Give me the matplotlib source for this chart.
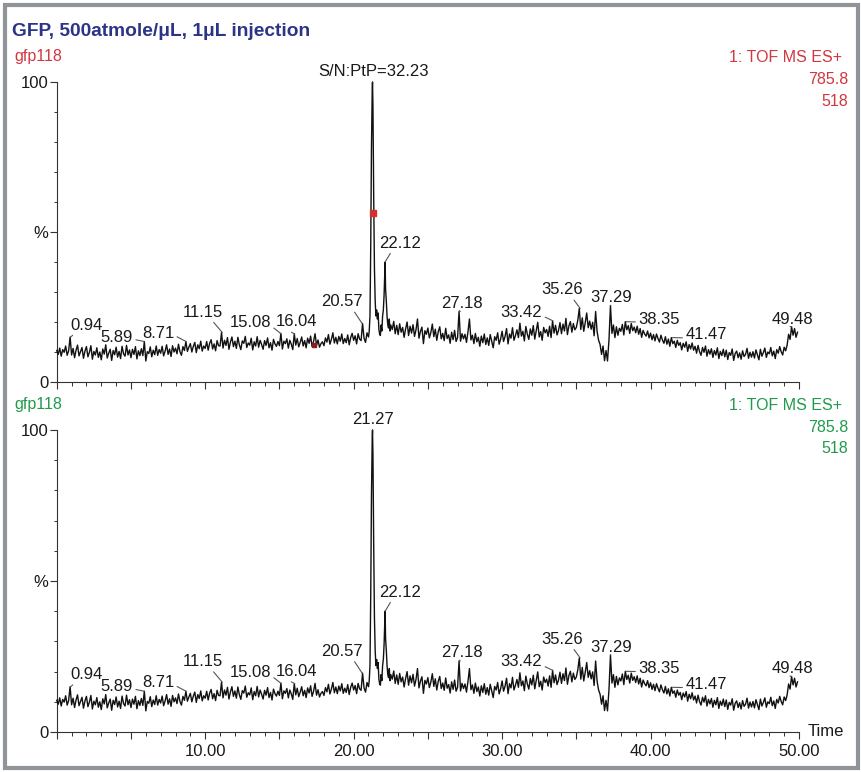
import numpy as np
import matplotlib
matplotlib.use("Agg")
import matplotlib.pyplot as plt
from matplotlib.ticker import MultipleLocator, FixedLocator, FuncFormatter
from matplotlib.patches import Rectangle

plt.rcParams['font.family'] = ['Liberation Sans', 'DejaVu Sans']

# Chromatogram trace (% of base peak) at 0.1 min steps
# part A: 0.0 - 20.9 min
trace_a = [
    10.5, 9.2, 11.3, 8.6, 10.8, 9.9, 12.0, 8.9, 10.4, 15.0,
    9.0, 11.2, 8.1, 10.6, 12.3, 8.7, 10.1, 11.5, 7.9, 10.3,
    11.8, 8.4, 9.9, 12.1, 7.6, 10.2, 9.0, 11.4, 8.2, 10.0,
    7.4, 11.0, 9.3, 12.4, 8.0, 9.6, 10.9, 7.2, 10.5, 9.1,
    11.6, 8.3, 10.2, 7.8, 11.9, 9.4, 8.6, 12.2, 9.0, 10.7,
    8.1, 10.9, 9.2, 11.8, 7.7, 10.4, 8.8, 11.1, 8.8, 13.5,
    7.0, 10.1, 9.5, 11.7, 8.4, 10.6, 9.1, 12.0, 8.9, 10.8,
    9.6, 11.9, 8.7, 10.3, 12.4, 9.2, 11.0, 8.5, 12.1, 10.0,
    11.3, 9.4, 12.6, 10.1, 8.9, 11.8, 10.5, 13.5, 10.2, 11.6,
    12.8, 10.0, 11.9, 13.2, 9.8, 12.4, 11.1, 13.6, 10.3, 12.0,
    11.2, 13.5, 10.6, 12.9, 14.1, 11.0, 12.7, 10.4, 13.8, 12.1,
    12.0, 16.5, 11.3, 13.9, 12.2, 14.8, 10.9, 13.3, 15.0, 11.8,
    13.6, 11.2, 14.9, 12.4, 10.8, 13.7, 12.9, 15.2, 11.5, 13.0,
    12.3, 14.6, 10.7, 13.4, 12.0, 15.1, 11.6, 13.9, 12.5, 10.9,
    13.8, 12.2, 14.7, 11.4, 13.1, 10.6, 14.2, 12.7, 11.9, 13.5,
    12.1, 16.2, 11.0, 13.6, 12.8, 14.4, 11.3, 13.9, 12.6, 10.8,
    16.0, 12.3, 14.5, 11.7, 13.2, 15.0, 12.0, 13.8, 11.4, 14.6,
    12.9, 15.3, 11.8, 13.5, 16.1, 12.2, 14.0, 11.6, 12.8, 13.4,
    12.1, 14.7, 13.3, 15.8, 12.6, 14.2, 16.4, 13.0, 14.9, 12.7,
    15.2, 13.6, 16.0, 12.8, 14.5, 13.1, 15.7, 12.4, 14.8, 16.2,
    13.9, 15.4, 12.7, 16.1, 14.3, 13.8, 19.5, 14.6, 13.2, 16.4,
]
# main peak region, finer steps
peak_t = [21.00, 21.05, 21.10, 21.15, 21.20, 21.25, 21.27, 21.30, 21.35, 21.40,
          21.45, 21.50, 21.55, 21.60, 21.65, 21.70, 21.75, 21.80, 21.85, 21.90,
          21.95, 22.00, 22.05, 22.09, 22.12, 22.15, 22.20, 22.25, 22.30, 22.35,
          22.40, 22.45, 22.50]
peak_v = [15.0, 17.0, 22.0, 45.0, 78.0, 97.0, 100.0, 92.0, 62.0, 38.0,
          27.0, 22.0, 24.0, 21.0, 23.0, 17.5, 16.0, 15.5, 19.0, 17.0,
          22.0, 24.0, 29.0, 36.0, 40.0, 31.0, 27.0, 22.0, 19.0, 18.0,
          21.0, 17.0, 19.0]
# part B: 22.6 - 49.9 min
trace_b = [
    17.5, 20.2, 16.1, 18.9,
    15.8, 19.4, 16.6, 18.2, 14.9, 17.7, 20.0, 15.5, 18.6, 16.3,
    19.1, 15.2, 17.4, 21.0, 14.6, 16.9, 18.3, 12.8, 17.1, 15.9,
    18.0, 14.7, 16.5, 19.3, 15.1, 17.6, 13.9, 16.8, 18.4, 14.4,
    16.2, 13.8, 17.9, 14.5, 15.7, 12.9, 16.6, 14.1, 17.2, 13.5,
    14.8, 23.5, 13.6, 16.1, 14.4, 15.9, 13.2, 16.7, 21.0, 14.0,
    15.6, 12.8, 16.2, 13.4, 14.9, 11.9, 15.3, 13.1, 16.0, 12.5,
    14.7, 12.2, 15.8, 13.6, 11.4, 15.1, 13.9, 16.4, 12.6, 14.3,
    16.9, 13.5, 15.2, 17.8, 12.7, 16.0, 14.6, 18.1, 13.9, 15.5,
    17.4, 14.8, 19.6, 15.3, 16.9, 13.7, 18.5, 15.9, 14.2, 17.7,
    15.6, 18.8, 14.3, 17.1, 19.9, 15.0, 16.8, 13.9, 18.2, 16.4,
    17.5, 15.2, 18.6, 14.8, 20.4, 16.3, 18.9, 15.7, 17.2, 19.8,
    16.1, 19.3, 17.0, 21.2, 15.8, 18.7, 20.1, 16.6, 19.5, 17.4,
    18.2, 20.6, 24.5, 17.5, 21.4, 16.9, 19.8, 23.0, 18.1, 20.3,
    17.6, 19.9, 15.4, 23.5, 16.8, 13.9, 12.5, 9.2, 12.0, 7.1,
    10.5, 7.0, 14.0, 25.5, 16.2, 19.0, 14.8, 18.4, 15.6, 17.9,
    16.9, 19.2, 15.7, 20.1, 17.4, 18.8, 16.2, 19.5, 17.1, 18.3,
    16.4, 18.6, 15.9, 17.8, 14.9, 17.2, 16.0, 15.3, 17.0, 14.7,
    16.3, 14.1, 15.8, 13.7, 16.0, 14.5, 13.3, 15.6, 14.0, 12.9,
    15.1, 12.6, 14.3, 11.9, 14.8, 12.8, 13.6, 11.5, 13.9, 12.2,
    13.1, 10.7, 12.9, 11.6, 13.4, 10.2, 12.5, 11.0, 13.0, 10.6,
    11.9, 9.6, 12.2, 10.1, 8.9, 11.5, 9.9, 12.0, 8.6, 10.8,
    9.3, 11.1, 8.2, 10.5, 9.0, 11.4, 7.8, 10.2, 8.8, 10.9,
    8.4, 10.6, 7.5, 9.8, 8.9, 11.0, 7.2, 9.5, 10.3, 8.1,
    9.7, 7.6, 10.4, 8.5, 9.2, 11.2, 7.9, 9.9, 8.3, 10.1,
    8.0, 10.7, 9.1, 7.4, 10.9, 8.6, 9.8, 11.3, 8.2, 10.0,
    9.4, 11.5, 8.7, 10.3, 7.8, 10.8, 9.6, 11.8, 10.1, 9.0,
    11.6, 10.4, 12.3, 15.9, 14.2, 18.4, 15.6, 17.8, 14.9, 16.6,
]

# labelled retention times
peak_rt = [0.94, 5.89, 8.71, 11.15, 15.08, 16.04, 20.57, 22.12,
           27.18, 33.42, 35.26, 37.29, 38.35, 41.47, 49.48]
main_rt = 21.27
sn_text = "S/N:PtP=32.23"

# label placement (x, y in data units, leader attach point on the text box)
label_layout = [
    (2.04, 19.0, (0.15, 0)), (4.06, 15.0, (1, 0.35)), (6.83, 16.3, (1, 0.35)),
    (9.87, 23.3, (0.7, 0)), (13.04, 19.7, (1, 0.3)), (16.14, 20.0, (0.25, 0)),
    (19.24, 26.7, (0.75, 0)), (23.15, 46.3, (0.3, 0)), (27.27, 26.3, (0.45, 0)),
    (31.31, 23.3, (1, 0.25)), (34.01, 30.7, (0.75, 0)), (37.38, 28.0, (0.48, 0)),
    (40.56, 21.0, (0, 0.3)), (43.73, 15.7, (0, 0.3)), (49.53, 21.0, (0.45, 0)),
]

t_a = np.arange(len(trace_a)) * 0.1
t_b = 22.6 + np.arange(len(trace_b)) * 0.1
t_all = np.concatenate([t_a, peak_t, t_b])
v_all = np.concatenate([trace_a, peak_v, trace_b])

RED = '#d2363e'
GREEN = '#1f9a4c'
NAVY = '#2b3486'
AXC = '#333333'

W, H = 862, 772
fig = plt.figure(figsize=(W / 100, H / 100), dpi=100)


def height_at(rt):
    near = np.abs(t_all - rt) <= 0.08
    return v_all[near].max()


def draw_panel(ax, is_top):
    ax.plot(t_all, v_all, color='#111111', lw=1.0, clip_on=False, zorder=3)
    ax.set_xlim(0, 50)
    ax.set_ylim(0, 100)
    for s in ['top', 'right']:
        ax.spines[s].set_visible(False)
    for s in ['left', 'bottom']:
        ax.spines[s].set_color(AXC)
        ax.spines[s].set_linewidth(0.8)

    ax.xaxis.set_major_locator(MultipleLocator(5))
    ax.xaxis.set_minor_locator(MultipleLocator(1))
    ax.xaxis.set_major_formatter(FuncFormatter(
        lambda v, p: f"{v:.2f}" if v > 0 and abs(v % 10) < 1e-6 else ""))
    ax.yaxis.set_major_locator(FixedLocator([0, 50, 100]))
    ax.yaxis.set_minor_locator(MultipleLocator(10))
    ax.set_yticklabels(["0", "%", "100"])
    ax.tick_params(axis='both', which='major', direction='out', color=AXC,
                   width=0.8, labelsize=12, labelcolor='#1a1a1a')
    ax.tick_params(axis='x', which='major', length=5, pad=3.5)
    ax.tick_params(axis='x', which='minor', length=3, width=0.7, color=AXC)
    ax.tick_params(axis='y', which='major', length=5, pad=1)
    ax.tick_params(axis='y', which='minor', length=2.5, width=0.7, color=AXC)
    if is_top:
        ax.tick_params(axis='x', labelbottom=False)

    for rt, (lx, ly, rp) in zip(peak_rt, label_layout):
        ax.annotate(f"{rt:.2f}", xy=(rt, height_at(rt)), xytext=(lx, ly),
                    ha='center', va='center', fontsize=12, color='#1a1a1a',
                    annotation_clip=False, zorder=4,
                    arrowprops=dict(arrowstyle='-', color='#555555', lw=0.8,
                                    relpos=rp, shrinkA=0, shrinkB=0))
    top_txt = sn_text if is_top else f"{main_rt:.2f}"
    ax.annotate(top_txt, xy=(main_rt, 100), xytext=(21.33, 103.5),
                ha='center', va='center', fontsize=12, color='#1a1a1a',
                annotation_clip=False,
                arrowprops=dict(arrowstyle='-', color='#555555', lw=0.8,
                                relpos=(0.5, 0), shrinkA=0, shrinkB=0))


ax_top = fig.add_axes([56.75 / W, 1 - 382 / H, (799 - 56.75) / W, 300 / H])
ax_bot = fig.add_axes([56.75 / W, 1 - 732 / H, (799 - 56.75) / W, 302 / H])
draw_panel(ax_top, True)
draw_panel(ax_bot, False)

# integration markers on the upper trace
ax_top.plot([21.31], [56.3], marker='s', ms=5, color='#d62f2f', zorder=5, clip_on=False)
ax_top.plot([17.3], [12.3], marker='s', ms=3.5, color='#8b1c1c', zorder=5)

ax_bot.text(1.012, 0.0, "Time", transform=ax_bot.transAxes, ha='left',
            va='center', fontsize=12, color='#1a1a1a')


def ftext(x, y, s, **kw):
    fig.text(x / W, 1 - y / H, s, va='center', **kw)


ftext(12, 32, "GFP, 500atmole/\u03bcL, 1\u03bcL injection", ha='left',
      fontsize=13.8, fontweight='bold', color=NAVY)
for y0, col in [(57, RED), (405, GREEN)]:
    ftext(14, y0, "gfp118", ha='left', fontsize=11.5, color=col)
    ftext(842, y0, "1: TOF MS ES+", ha='right', fontsize=11.5, color=col)
    ftext(848, y0 + 22, "785.8", ha='right', fontsize=11.5, color=col)
    ftext(848, y0 + 44, "518", ha='right', fontsize=11.5, color=col)

fig.patches.append(Rectangle((5 / W, 4 / H), 853 / W, 763 / H, fill=False,
                             edgecolor='#8e9499', lw=3,
                             transform=fig.transFigure, figure=fig))

fig.savefig("out.png", dpi=100, facecolor='white')
